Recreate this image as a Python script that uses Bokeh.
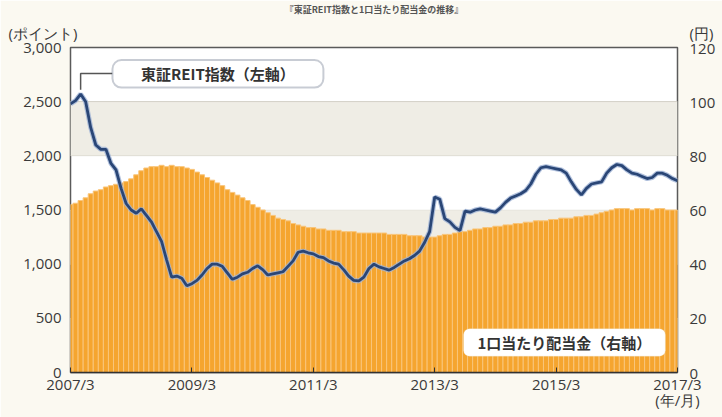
from bokeh.plotting import figure
from bokeh.models import (Range1d, LinearAxis, FixedTicker, NumeralTickFormatter,
                          Label, BoxAnnotation, Title)
from bokeh.embed import file_html
from bokeh.resources import INLINE

# ---- data (monthly, 2007/3 .. 2017/3) ----
reit = [2480, 2510, 2570, 2500, 2260, 2100, 2060, 2060, 1930, 1870, 1700, 1560,
        1500, 1470, 1510, 1450, 1390, 1300, 1210, 1040, 880, 890, 870, 800,
        820, 850, 900, 960, 1000, 1000, 980, 920, 860, 880, 910, 925,
        960, 985, 950, 900, 910, 920, 930, 980, 1030, 1110, 1120, 1105,
        1095, 1070, 1060, 1030, 1010, 1000, 950, 890, 850, 845, 880, 960,
        1000, 975, 960, 945, 970, 1000, 1030, 1050, 1080, 1120, 1200, 1300,
        1620, 1600, 1420, 1390, 1340, 1310, 1490, 1480, 1500, 1510, 1500, 1490,
        1480, 1520, 1570, 1610, 1630, 1650, 1680, 1740, 1830, 1890, 1900, 1890,
        1880, 1870, 1840, 1760, 1690, 1640, 1700, 1740, 1750, 1760, 1840, 1890,
        1920, 1910, 1870, 1840, 1830, 1810, 1790, 1800, 1840, 1840, 1820, 1790,
        1770]
dividend = [62, 62.5, 63.5, 64.5, 66, 67, 67.5, 68.5, 69, 69.5, 70, 70.5, 71.5,
            73, 74.5, 75.5, 76, 76, 76.5, 76, 76.5, 76, 76, 75.5, 75,
            74, 73, 72, 71, 70, 69, 67.5, 66.5, 65.5, 64.5, 63.5, 62,
            61, 60, 59, 58, 57, 56.5, 56, 55, 54.5, 54, 53.5, 53.5,
            53, 53, 52.5, 52.5, 52.5, 52, 52, 52, 51.5, 51.5, 51.5, 51.5,
            51.5, 51.5, 51, 51, 51, 51, 50.5, 50.5, 50.5, 50, 50, 50,
            50.5, 51, 51, 51.5, 52, 52, 52.5, 53, 53, 53.5, 53.5, 54,
            54, 54.5, 54.5, 55, 55, 55.5, 55.5, 56, 56, 56, 56.5, 56.5,
            57, 57, 57, 57.5, 57.5, 58, 58, 58.5, 59, 59.5, 60, 60.5,
            60.5, 60.5, 60, 60.5, 60.5, 60.5, 60, 60.5, 60.5, 60, 60, 60]
months = list(range(len(reit)))
x_tick_pos = [0, 24, 48, 72, 96, 120]
x_tick_labels = ["2007/3", "2009/3", "2011/3", "2013/3", "2015/3", "2017/3\n(年/月)"]
left_ticks = [0, 500, 1000, 1500, 2000, 2500, 3000]
right_ticks = [0, 20, 40, 60, 80, 100, 120]
right_tick_labels = ["0", "20", "40", "60", "80", "100", "(円)\n120\n "]
shaded_bands = [(0, 500), (1000, 1500), (2000, 2500)]
title_text = "『東証REIT指数と1口当たり配当金の推移』"

FONT = "Open Sans"
TXT = "#3a3a3a"

p = figure(width=722, height=417, output_backend="svg", toolbar_location=None,
           x_range=Range1d(0, 120), y_range=Range1d(0, 3000),
           min_border_left=70, min_border_right=45, min_border_top=47,
           min_border_bottom=45)
p.extra_y_ranges = {"div": Range1d(0, 120)}

p.background_fill_color = "#ffffff"
p.border_fill_color = "#fbf9f1"
p.outline_line_color = "#5a5a5a"
p.outline_line_width = 1.5

# grid & bands
p.xgrid.visible = False
p.ygrid.ticker = FixedTicker(ticks=left_ticks)
p.ygrid.grid_line_color = "#cfcdc4"
p.ygrid.grid_line_width = 1
for lo, hi in shaded_bands:
    p.add_layout(BoxAnnotation(bottom=lo, top=hi, fill_color="#efede5", fill_alpha=1,
                               line_color="#cfcdc4", line_width=1, level="underlay"))

# bars (right axis)
p.vbar(x=months, top=dividend, width=1.0, y_range_name="div",
       fill_color="#f5a52f", line_color="#f9c57a", line_width=1)

# REIT line (left axis)
p.line(months, reit, line_color="#9db2d4", line_width=5, line_alpha=0.8)
p.line(months, reit, line_color="#2a4676", line_width=2.8)

# axes
p.xaxis.ticker = FixedTicker(ticks=x_tick_pos)
p.xaxis.major_label_overrides = {t: l for t, l in zip(x_tick_pos, x_tick_labels)}
p.xaxis.axis_line_color = "#333333"
p.xaxis.axis_line_width = 1.5
p.xaxis.major_tick_in = 5
p.xaxis.major_tick_out = 0
p.xaxis.major_tick_line_color = "#333333"
p.xaxis.minor_tick_line_color = None
p.xaxis.major_label_standoff = 1
p.xaxis.major_label_text_line_height = 0.8

p.yaxis.ticker = FixedTicker(ticks=left_ticks)
p.yaxis.formatter = NumeralTickFormatter(format="0,0")
p.yaxis.axis_line_color = None
p.yaxis.major_tick_line_color = None
p.yaxis.minor_tick_line_color = None
p.yaxis.major_label_standoff = 3

raxis = LinearAxis(y_range_name="div", ticker=FixedTicker(ticks=right_ticks),
                   axis_line_color=None, major_tick_line_color=None,
                   minor_tick_line_color=None, major_label_standoff=6)
raxis.major_label_overrides = {t: l for t, l in zip(right_ticks, right_tick_labels)}
raxis.major_label_text_line_height = 0.75
p.add_layout(raxis, "right")

for ax in [p.xaxis[0], p.yaxis[0], raxis]:
    ax.major_label_text_font = FONT
    ax.major_label_text_font_size = "15px"
    ax.major_label_text_color = TXT

# unit label of the left axis and the (cut) chart title, above the frame
p.add_layout(Title(text="(ポイント)", align="left", offset=-62, standoff=10,
                   vertical_align="bottom", text_font=FONT, text_font_size="15px",
                   text_color=TXT, text_font_style="normal"), "above")
p.add_layout(Title(text=title_text, align="center", standoff=0,
                   vertical_align="bottom", text_font="Noto Sans CJK JP",
                   text_font_size="9px", text_color="#555555",
                   text_font_style="bold"), "above")

# annotation for REIT index
peak_i = max(months, key=lambda i: reit[i])
p.line([peak_i, peak_i, 8.3], [reit[peak_i] + 40, 2760, 2760],
       line_color="#555555", line_width=1.5)
p.add_layout(BoxAnnotation(left=8.3, right=50.0, bottom=2630, top=2885,
                           fill_color="#ffffff", fill_alpha=1,
                           line_color="#4a5670", line_width=2, border_radius=9))
p.add_layout(Label(x=29.15, y=2757, text="東証REIT指数（左軸）", text_align="center",
                   text_baseline="middle", text_font="Noto Sans CJK JP",
                   text_font_size="15px", text_font_style="bold", text_color="#333333"))

# annotation for dividend
p.add_layout(BoxAnnotation(left=77.7, right=117.6, bottom=150, top=405,
                           fill_color="#ffffff", fill_alpha=1,
                           line_color="#e8cfa0", line_width=1, border_radius=6))
p.add_layout(Label(x=97.65, y=277, text="1口当たり配当金（右軸）", text_align="center",
                   text_baseline="middle", text_font="Noto Sans CJK JP",
                   text_font_size="15px", text_font_style="bold", text_color="#333333"))

open("out.html", "w").write(file_html(p, INLINE))
